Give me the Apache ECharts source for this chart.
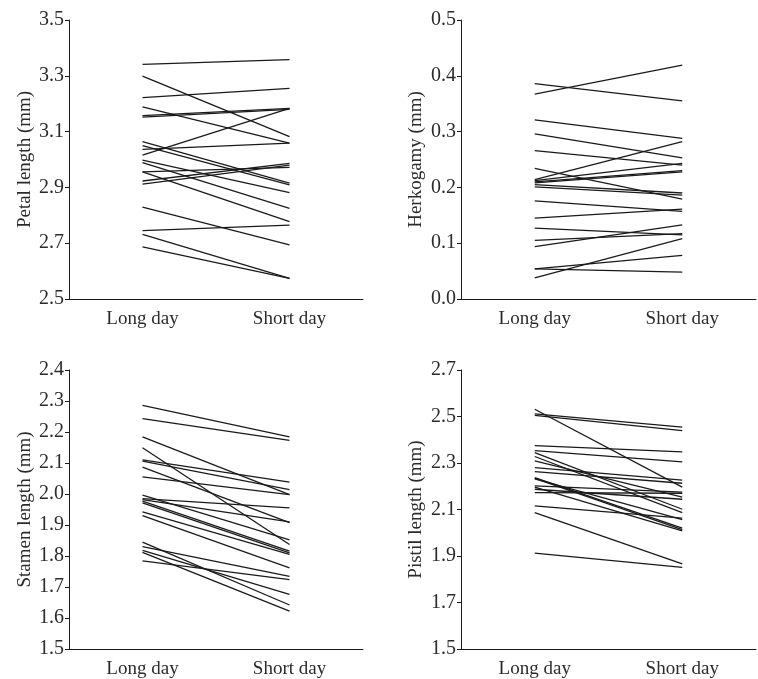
<!DOCTYPE html>
<html>
<head>
<meta charset="utf-8">
<script src="https://cdn.jsdelivr.net/npm/echarts@6/dist/echarts.min.js"></script>
<style>
  html, body { margin: 0; padding: 0; background: #fff; }
  #main { width: 758px; height: 679px; }
</style>
</head>
<body>
<div id="main"></div>
<script>
// photoperiod categories
var categories = ['Long day', 'Short day'];

// petal length (mm), one pair per plant
var petalLong  = [3.341, 3.299, 3.222, 3.189, 3.157, 3.152, 3.064, 3.050, 3.036, 3.016, 2.998, 2.989, 2.956, 2.956, 2.923, 2.912, 2.829, 2.745, 2.732, 2.687];
var petalShort = [3.358, 3.082, 3.255, 3.059, 3.183, 3.180, 2.915, 2.909, 3.059, 3.183, 2.881, 2.825, 2.777, 2.972, 2.986, 2.980, 2.694, 2.765, 2.574, 2.574];

// herkogamy (mm)
var herkLong  = [0.386, 0.367, 0.321, 0.296, 0.266, 0.234, 0.214, 0.212, 0.210, 0.208, 0.205, 0.201, 0.176, 0.145, 0.127, 0.105, 0.094, 0.054, 0.054, 0.038];
var herkShort = [0.355, 0.419, 0.288, 0.253, 0.240, 0.179, 0.282, 0.243, 0.230, 0.228, 0.190, 0.186, 0.157, 0.161, 0.115, 0.117, 0.133, 0.078, 0.048, 0.108];

// stamen length (mm)
var stamenLong  = [2.286, 2.243, 2.184, 2.149, 2.110, 2.106, 2.087, 2.055, 1.996, 1.985, 1.982, 1.977, 1.971, 1.942, 1.930, 1.845, 1.830, 1.818, 1.812, 1.784];
var stamenShort = [2.184, 2.173, 1.998, 1.837, 2.038, 2.014, 1.908, 1.998, 1.852, 1.955, 1.910, 1.816, 1.810, 1.805, 1.762, 1.642, 1.734, 1.676, 1.622, 1.724];

// pistil length (mm)
var pistilLong  = [2.531, 2.511, 2.505, 2.375, 2.353, 2.345, 2.328, 2.309, 2.280, 2.263, 2.237, 2.234, 2.232, 2.202, 2.196, 2.187, 2.173, 2.116, 2.087, 1.912];
var pistilShort = [2.196, 2.454, 2.439, 2.348, 2.305, 2.101, 2.087, 2.153, 2.226, 2.213, 2.020, 2.013, 2.056, 2.175, 2.008, 2.144, 2.170, 2.063, 1.866, 1.851];

var font = '"Liberation Serif", "Times New Roman", serif';
var ink = '#1a1a1a';
var textInk = '#2b2b2b';

var panels = [
  { left: 69,  top: 20,  width: 294, gap: 34, name: 'Petal length (mm)',  min: 2.5, max: 3.5, interval: 0.2, a: petalLong,  b: petalShort },
  { left: 461, top: 20,  width: 295, gap: 35, name: 'Herkogamy (mm)',     min: 0,   max: 0.5, interval: 0.1, a: herkLong,   b: herkShort },
  { left: 69,  top: 370, width: 294, gap: 34, name: 'Stamen length (mm)', min: 1.5, max: 2.4, interval: 0.1, a: stamenLong, b: stamenShort },
  { left: 461, top: 370, width: 295, gap: 35, name: 'Pistil length (mm)', min: 1.5, max: 2.7, interval: 0.2, a: pistilLong, b: pistilShort }
];

var grid = [], xAxis = [], yAxis = [], series = [];
panels.forEach(function (p, k) {
  grid.push({ left: p.left, top: p.top, width: p.width, height: 279 });
  xAxis.push({
    type: 'category', gridIndex: k, data: categories, boundaryGap: true,
    axisLine: { lineStyle: { color: ink, width: 1 } },
    axisTick: { length: 6, lineStyle: { color: ink } },
    axisLabel: { color: textInk, fontFamily: font, fontSize: 19, margin: 11 }
  });
  yAxis.push({
    type: 'value', gridIndex: k, min: p.min, max: p.max, interval: p.interval,
    name: p.name, nameLocation: 'middle', nameGap: p.gap,
    nameTextStyle: { color: textInk, fontFamily: font, fontSize: 19 },
    axisLine: { show: true, lineStyle: { color: ink, width: 1 } },
    axisTick: { show: true, length: 4, lineStyle: { color: ink } },
    splitLine: { show: false },
    axisLabel: {
      color: textInk, fontFamily: font, fontSize: 20, margin: 5,
      formatter: function (v) { return v.toFixed(1); }
    }
  });
  for (var i = 0; i < p.a.length; i++) {
    series.push({
      type: 'line', xAxisIndex: k, yAxisIndex: k,
      data: [p.a[i], p.b[i]],
      symbol: 'none', silent: true,
      lineStyle: { color: ink, width: 1.3 }
    });
  }
});

var myChart = echarts.init(document.getElementById('main'));
myChart.setOption({
  animation: false,
  grid: grid,
  xAxis: xAxis,
  yAxis: yAxis,
  series: series
});
</script>
</body>
</html>
